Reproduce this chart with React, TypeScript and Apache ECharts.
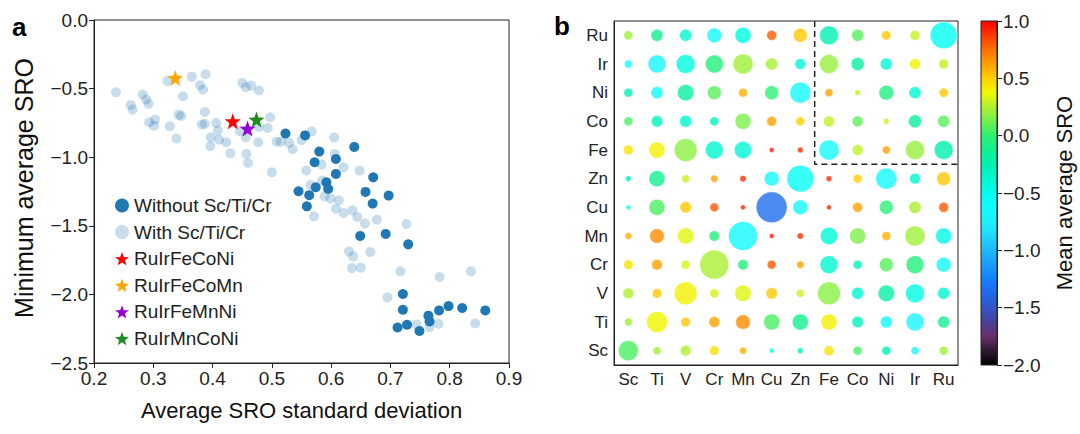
import React, { useEffect, useRef } from 'react';
import * as echarts from 'echarts';

const FONT = '"Liberation Sans", Arial, Helvetica, sans-serif';

// ---------- Panel a data ----------
const xTickValues = [0.2, 0.3, 0.4, 0.5, 0.6, 0.7, 0.8, 0.9];
const yTickValues = [0.0, -0.5, -1.0, -1.5, -2.0, -2.5];

const withoutScTiCr: number[][] = [
  [0.523, -0.828], [0.556, -0.841], [0.580, -0.959], [0.639, -0.925], [0.572, -1.037],
  [0.608, -1.013], [0.608, -1.122], [0.671, -1.147], [0.592, -1.183], [0.595, -1.232],
  [0.574, -1.219], [0.545, -1.248], [0.563, -1.277], [0.559, -1.358], [0.658, -1.253],
  [0.697, -1.280], [0.670, -1.338], [0.649, -1.574], [0.692, -1.559], [0.730, -1.635],
  [0.721, -1.997], [0.721, -2.112], [0.712, -2.241], [0.728, -2.221], [0.749, -2.267],
  [0.764, -2.155], [0.766, -2.197], [0.782, -2.117], [0.798, -2.085], [0.821, -2.099],
  [0.860, -2.117],
];

const withScTiCr: number[][] = [
  [0.237, -0.527], [0.262, -0.619], [0.265, -0.653], [0.282, -0.543], [0.288, -0.580],
  [0.292, -0.611], [0.293, -0.745], [0.303, -0.726], [0.301, -0.770], [0.324, -0.444],
  [0.328, -0.775], [0.339, -0.864], [0.343, -0.690], [0.347, -0.700], [0.350, -0.556],
  [0.365, -0.414], [0.379, -0.475], [0.384, -0.507], [0.388, -0.395], [0.387, -0.670],
  [0.382, -0.762], [0.387, -0.757], [0.406, -0.750], [0.409, -0.806], [0.397, -0.855],
  [0.411, -0.872], [0.396, -0.920], [0.423, -0.891], [0.430, -0.971], [0.450, -0.458],
  [0.456, -0.490], [0.465, -0.478], [0.478, -0.514], [0.446, -0.811], [0.456, -0.855],
  [0.457, -0.976], [0.460, -1.042], [0.477, -0.891], [0.478, -0.779], [0.493, -0.787],
  [0.497, -0.709], [0.500, -1.110], [0.508, -0.887], [0.515, -0.887], [0.529, -0.896],
  [0.535, -0.942], [0.550, -0.875], [0.567, -0.813], [0.558, -1.097], [0.605, -0.857],
  [0.606, -0.976], [0.584, -1.054], [0.621, -1.074], [0.648, -1.098], [0.565, -1.202],
  [0.585, -1.170], [0.589, -1.285], [0.599, -1.302], [0.613, -1.314], [0.608, -1.375],
  [0.621, -1.406], [0.636, -1.387], [0.644, -1.436], [0.657, -1.484], [0.677, -1.455],
  [0.571, -1.431], [0.727, -1.487], [0.630, -1.686], [0.637, -1.723], [0.666, -1.691],
  [0.635, -1.808], [0.650, -1.805], [0.717, -1.832], [0.783, -1.873], [0.836, -1.832],
  [0.695, -2.022], [0.744, -2.219], [0.766, -2.238], [0.781, -2.214], [0.843, -2.211],
];

const starNames = ['RuIrFeCoNi', 'RuIrFeCoMn', 'RuIrFeMnNi', 'RuIrMnCoNi'];
const starPoints: number[][] = [
  [0.434, -0.738],
  [0.337, -0.422],
  [0.459, -0.791],
  [0.474, -0.726],
];
const starColors = ['#ff0000', '#ffa500', '#9400d3', '#228b22'];

// ---------- Panel b data ----------
const elements = ['Sc', 'Ti', 'V', 'Cr', 'Mn', 'Cu', 'Zn', 'Fe', 'Co', 'Ni', 'Ir', 'Ru'];

// lower triangle (row i, columns 0..i), symmetric matrix
const meanSRO: number[][] = [
  [0.05],
  [0.22, 0.38],
  [0.25, 0.52, 0.40],
  [0.45, 0.62, 0.32, 0.24],
  [0.58, 0.68, 0.34, -0.05, -0.65],
  [-0.55, 0.05, 0.52, 0.80, 0.93, -1.35],
  [-0.30, -0.12, 0.30, 0.62, 0.90, -0.65, -0.55],
  [0.45, 0.40, 0.18, -0.38, -0.40, 0.93, 0.90, -0.65],
  [0.05, -0.30, -0.38, -0.30, 0.15, 0.62, 0.50, 0.28, 0.08],
  [-0.25, -0.60, -0.20, 0.08, 0.58, -0.02, -0.65, 0.62, 0.28, -0.05],
  [-0.65, -0.70, -0.45, -0.05, 0.22, 0.24, -0.40, 0.20, -0.18, -0.40, 0.40],
  [0.22, -0.12, -0.38, -0.65, -0.45, 0.80, 0.52, -0.25, 0.08, 0.52, 0.28, -0.50],
];

// relative bubble magnitude (lower triangle)
const bubbleMagnitude: number[][] = [
  [0.65],
  [0.26, 0.68],
  [0.35, 0.31, 0.74],
  [0.31, 0.35, 0.29, 0.94],
  [0.23, 0.47, 0.53, 0.34, 0.94],
  [0.16, 0.52, 0.37, 0.29, 0.16, 1.00],
  [0.19, 0.52, 0.26, 0.24, 0.21, 0.48, 0.87],
  [0.32, 0.52, 0.74, 0.58, 0.56, 0.16, 0.19, 0.65],
  [0.29, 0.37, 0.39, 0.29, 0.52, 0.32, 0.29, 0.35, 0.35],
  [0.29, 0.39, 0.53, 0.45, 0.29, 0.45, 0.68, 0.26, 0.19, 0.48],
  [0.26, 0.58, 0.61, 0.58, 0.65, 0.40, 0.35, 0.61, 0.42, 0.39, 0.35],
  [0.29, 0.39, 0.39, 0.48, 0.52, 0.32, 0.45, 0.61, 0.39, 0.30, 0.32, 0.87],
];

const highlightFrom = 'Fe';
const colorbarMin = -2;
const colorbarMax = 1;

// colormap sampled at equal steps from -2 to 1
const cmap = [
  '#000000', '#2e1a30', '#6a2f6a', '#4b3f98', '#3355c8', '#2068e8', '#1480ff', '#1a9cff',
  '#20b8ff', '#20d8ff', '#1ef0ff', '#10fcff', '#00fff0', '#00f8d0', '#00f0b0', '#10f090',
  '#30f070', '#70f050', '#b0f030', '#f0f800', '#ffd000', '#ffa000', '#ff7000', '#ff3800',
  '#ff0000',
];

const STAR =
  'path://M12,0 L14.94,8.09 L23.41,8.29 L16.76,13.51 L19.05,21.71 L12,16.9 L4.95,21.71 L7.24,13.51 L0.59,8.29 L9.06,8.09 Z';

const fmt = (v: number) => (v < 0 ? '\u2212' : '') + Math.abs(v).toFixed(1);

function buildMatrix() {
  const out: number[][] = [];
  for (let i = 0; i < elements.length; i++) {
    for (let j = 0; j < elements.length; j++) {
      const r = Math.max(i, j);
      const c = Math.min(i, j);
      out.push([j, i, meanSRO[r][c], bubbleMagnitude[r][c]]);
    }
  }
  return out;
}

export default function App() {
  const ref = useRef<HTMLDivElement>(null);

  useEffect(() => {
    if (!ref.current) return;
    const chart = echarts.init(ref.current, undefined, { renderer: 'svg' });
    const axisColor = '#222';
    const b = elements.indexOf(highlightFrom) - 0.5;
    const top = elements.length - 0.5;
    const boxLine = [
      [b, top],
      [b, b],
      [top, b],
    ];

    const option: any = {
      animation: false,
      textStyle: { fontFamily: FONT },
      grid: [
        { left: 94, top: 20, width: 415, height: 343, show: true, borderColor: axisColor, borderWidth: 1 },
        { left: 614, top: 21, width: 344, height: 344, show: true, borderColor: axisColor, borderWidth: 1 },
        { left: 981, top: 21, width: 16, height: 344, show: false },
      ],
      xAxis: [
        {
          gridIndex: 0, type: 'value', min: xTickValues[0], max: xTickValues[xTickValues.length - 1], interval: 0.1,
          name: 'Average SRO standard deviation', nameLocation: 'middle', nameGap: 36,
          nameTextStyle: { fontSize: 22, color: '#111', fontFamily: FONT },
          axisLine: { onZero: false, lineStyle: { color: axisColor } },
          axisTick: { length: 5, lineStyle: { color: axisColor } },
          axisLabel: { fontSize: 19, color: '#222', margin: 6, formatter: (v: number) => v.toFixed(1), fontFamily: FONT },
          splitLine: { show: false },
        },
        {
          gridIndex: 1, type: 'category', data: elements, boundaryGap: true,
          axisLine: { onZero: false, lineStyle: { color: axisColor } },
          axisTick: { alignWithLabel: true, length: 5, lineStyle: { color: axisColor } },
          axisLabel: { fontSize: 17, color: '#222', interval: 0, margin: 6, fontFamily: FONT },
          splitLine: { show: false },
        },
        { gridIndex: 1, type: 'value', min: -0.5, max: elements.length - 0.5, show: false, splitLine: { show: false } },
        { gridIndex: 2, type: 'value', min: 0, max: 1, show: false, splitLine: { show: false } },
      ],
      yAxis: [
        {
          gridIndex: 0, type: 'value', min: yTickValues[yTickValues.length - 1], max: yTickValues[0], interval: 0.5,
          axisLine: { onZero: false, lineStyle: { color: axisColor } },
          axisTick: { length: 5, lineStyle: { color: axisColor } },
          axisLabel: { fontSize: 19, color: '#222', margin: 6, formatter: fmt, fontFamily: FONT },
          splitLine: { show: false },
        },
        {
          gridIndex: 1, type: 'category', data: elements, boundaryGap: true,
          axisLine: { onZero: false, lineStyle: { color: axisColor } },
          axisTick: { alignWithLabel: true, length: 5, lineStyle: { color: axisColor } },
          axisLabel: { fontSize: 17, color: '#222', interval: 0, margin: 6, fontFamily: FONT },
          splitLine: { show: false },
        },
        { gridIndex: 1, type: 'value', min: -0.5, max: elements.length - 0.5, show: false, splitLine: { show: false } },
        {
          gridIndex: 2, type: 'value', position: 'right', min: colorbarMin, max: colorbarMax, interval: 0.5,
          name: 'Mean average SRO', nameLocation: 'middle', nameRotate: 90, nameGap: 56,
          nameTextStyle: { fontSize: 22, color: '#111', fontFamily: FONT },
          axisLine: { show: true, onZero: false, lineStyle: { color: axisColor } },
          axisTick: { show: true, length: 5, lineStyle: { color: axisColor } },
          axisLabel: { fontSize: 19, color: '#222', margin: 6, formatter: fmt, fontFamily: FONT },
          splitLine: { show: false },
        },
      ],
      visualMap: {
        type: 'continuous', show: false, min: colorbarMin, max: colorbarMax, dimension: 2, seriesIndex: 6,
        inRange: { color: cmap },
      },
      legend: {
        orient: 'vertical', left: 110, top: 191, itemWidth: 14, itemHeight: 14, itemGap: 7.6,
        textStyle: { fontSize: 19, color: '#222', fontFamily: FONT },
        data: [
          { name: 'Without Sc/Ti/Cr', icon: 'circle', itemStyle: { color: '#1f77b4' } },
          { name: 'With Sc/Ti/Cr', icon: 'circle', itemStyle: { color: '#1f77b4', opacity: 0.25 } },
          ...starNames.map((n) => ({ name: n, icon: STAR })),
        ],
      },
      graphic: [
        { type: 'text', left: 12, top: 14, style: { text: 'a', font: `bold 26px ${FONT}`, fill: '#000' } },
        { type: 'text', left: 554, top: 13, style: { text: 'b', font: `bold 26px ${FONT}`, fill: '#000' } },
        {
          type: 'text', x: 24, y: 188, rotation: Math.PI / 2,
          style: {
            text: 'Minimum average SRO', font: `25px ${FONT}`, fill: '#111',
            align: 'center', verticalAlign: 'middle',
          },
        },
        {
          type: 'rect', shape: { x: 981, y: 21, width: 16, height: 344 },
          style: {
            fill: new echarts.graphic.LinearGradient(0, 1, 0, 0,
              cmap.map((c, i) => ({ offset: i / (cmap.length - 1), color: c }))),
            stroke: axisColor, lineWidth: 1,
          },
          z: 0,
        },
      ],
      series: [
        {
          name: 'With Sc/Ti/Cr', type: 'scatter', xAxisIndex: 0, yAxisIndex: 0, data: withScTiCr,
          symbolSize: 10, itemStyle: { color: '#1f77b4', opacity: 0.25 }, z: 2,
        },
        {
          name: 'Without Sc/Ti/Cr', type: 'scatter', xAxisIndex: 0, yAxisIndex: 0, data: withoutScTiCr,
          symbolSize: 10, itemStyle: { color: '#1f77b4', opacity: 1 }, z: 3,
        },
        ...starNames.map((n, i) => ({
          name: n, type: 'scatter', xAxisIndex: 0, yAxisIndex: 0, data: [starPoints[i]],
          symbol: STAR, symbolSize: 16, itemStyle: { color: starColors[i], opacity: 1 }, z: 4,
        })),
        {
          name: 'matrix', type: 'scatter', xAxisIndex: 1, yAxisIndex: 1, data: buildMatrix(),
          symbolSize: (d: number[]) => d[3] * 31,
          itemStyle: { borderColor: '#ffffff', borderWidth: 0.6 }, z: 3,
        },
        {
          name: 'box', type: 'line', xAxisIndex: 2, yAxisIndex: 2, data: boxLine, symbol: 'none',
          lineStyle: { color: axisColor, width: 1.5, type: [6, 4] }, z: 5, silent: true,
        },
      ],
    };
    chart.setOption(option);
    return () => chart.dispose();
  }, []);

  return (
    <div
      ref={ref}
      style={{ position: 'fixed', left: 0, top: 0, width: 1080, height: 434, background: '#fff' }}
    />
  );
}
